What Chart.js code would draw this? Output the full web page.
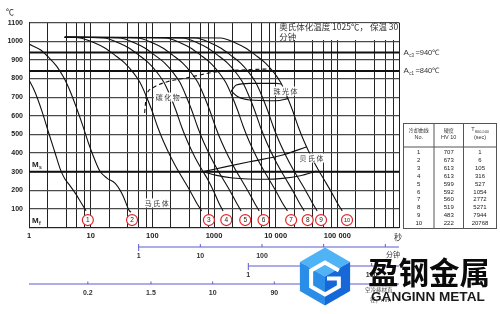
<!DOCTYPE html>
<html><head><meta charset="utf-8">
<script src="https://cdn.jsdelivr.net/npm/chart.js@4.4.1/dist/chart.umd.min.js"></script>
<style>html,body{margin:0;padding:0;background:#fff;}canvas{display:block;}</style>
</head><body>
<canvas id="c" width="500" height="314"></canvas>
<script>
// ---------- data ----------
const xGridValues = [1,2,4,6,8,10,20,40,60,80,100,200,400,600,800,1000,2000,4000,6000,8000,
  10000,20000,40000,60000,80000,100000,200000,400000,600000,800000,1000000];
const xLabelValues = [1,10,100,1000,10000,100000];
const xLabelTexts = ['1','10','100','1000','10 000','100 000'];
const yMax = 1100, yStep = 100;

const ac3Temp = 940, ac1Temp = 840, msTemp = 300;

// cooling curves [time s, temperature °C]
const curve1 = [[1,792],[1.25,728],[1.62,625],[2.1,505],[2.65,400],[3.2,315],[3.8,262],[4.5,230],[5.7,182],[7.2,126],[8.4,90]];
const curve2 = [[1,985],[1.55,953],[2.05,916],[2.8,867],[3.7,803],[4.7,728],[5.9,642],[7.4,550],[9.2,454],[11.3,375],[14,305],[18.5,264],[25,237],[33,175],[42,92],[45,82]];
const coolTemps = [1022,1018,991,964,926,883,835,781,712,631,540,459,379,309,255,191,132,89];
const curve3Times = [3.8,6.7,11.7,17,24.6,35.8,48.2,62.5,78.2,97.8,122,153,199,258,322,418,523,630];
const curve4Times = [3.8,16.4,28.7,41.7,60.3,87.7,118,153,192,240,299,375,488,640,800,1000,1200,1400];
const curve5Times = [3.8,29.7,52,75.5,109,159,214,278,347,434,542,679,884,1146,1430,1856,2322,2750];
const curve6Times = [3.8,58,102,148,214,311,418,543,679,849,1059,1328,1727,2239,2795,3628,4540,5400];
const curve7Times = [3.8,165,288,418,605,881,1186,1538,1924,2406,3001,3764,4895,6347,7921,10280,12870,15500];
const curve8Times = [3.8,311,543,789,1141,1661,2236,2900,3628,4538,5661,7099,9234,11970,14940,19400,24270,29000];
const curve9Times = [3.8,505,881,1280,1852,2696,3629,4706,5888,7364,9187,11520,14980,19430,24250,31480,39380,47000];
const curve10Times = [3.8,1280,2235,3247,4699,6838,9206,11940,14940,18680,23300,29220,38010,49280,61500,79840,99890,120000];

// transformation region boundaries
const carbideLine = [[75,615],[77,660],[80,705],[100,748],[175,783],[330,801],[1140,837],[3800,848],[8400,852]];
const pearliteStart = [[1905,733],[2300,765],[3770,774],[10190,774],[12400,771]];
const pearliteEnd = [[1905,733],[2436,702],[3768,685],[10190,681],[16000,692]];
const bainiteStart = [[665,300],[1580,327],[3770,353],[13000,389],[32000,434]];
const bainiteEnd = [[665,300],[1100,280],[2020,266],[7000,259],[13000,264],[25000,278],[46000,303]];

// curve number markers
const markerNumbers = ['1','2','3','4','5','6','7','8','9','10'];
const markerTimes = [9.0,46.9,827,1582,3209,6348,17820,33070,54460,143600];
const markerTemp = 40;

// phase labels [text, time, temp]
const phaseLabels = [['碳化物',177,701],['珠光体',14420,733],['贝氏体',37950,373],['马氏体',118,132]];

// table
const tableNo = ['1','2','3','4','5','6','7','8','9','10'];
const tableHV = ['707','673','613','613','599','592','560','519','483','222'];
const tableT85 = ['1','6','105','316','527','1054','2772','5271','7944','20768'];

// secondary axes
const minuteTicks = [1,10,100,1000,10000];
const minuteLabels = ['1','10','100','1000',''];
const hourTicks = [1,10,100];
const hourLabels = ['1','10','100'];
const diamSeconds = [9,95,950,9500];
const diamLabels = ['0.2','1.5','10','90'];

// ---------- chart ----------
function lineDs(points, extra){
  return Object.assign({
    data: points.map(p => ({x:p[0], y:p[1]})),
    showLine:true, borderColor:'#111', borderWidth:1.1, pointRadius:0,
    cubicInterpolationMode:'monotone', fill:false
  }, extra || {});
}
const zip = ts => ts.map((t,i) => [t, coolTemps[i]]);
const datasets = [
  lineDs(curve1), lineDs(curve2),
  lineDs(zip(curve3Times)), lineDs(zip(curve4Times)), lineDs(zip(curve5Times)), lineDs(zip(curve6Times)),
  lineDs(zip(curve7Times)), lineDs(zip(curve8Times)), lineDs(zip(curve9Times)), lineDs(zip(curve10Times)),
  lineDs(carbideLine, {borderDash:[4,3]}),
  lineDs(pearliteStart), lineDs(pearliteEnd),
  lineDs(bainiteStart), lineDs(bainiteEnd),
  {
    data: markerTimes.map(t => ({x:t, y:markerTemp})),
    showLine:false, pointRadius:5.5, pointBackgroundColor:'#fff',
    pointBorderColor:'#e0262a', pointBorderWidth:1.2, clip:false
  }
];

const NUMF = "'Liberation Sans', Arial, sans-serif";
const CJKF = "'Noto Sans CJK SC', sans-serif";

function txt(ctx, s, x, y, font, color, align){
  ctx.font = font; ctx.fillStyle = color || '#333';
  ctx.textAlign = align || 'center'; ctx.textBaseline = 'middle';
  ctx.fillText(s, x, y);
}
function subLabel(ctx, main, sub, x, y, mainFont, subFont, color){
  ctx.font = mainFont; ctx.fillStyle = color; ctx.textAlign='left'; ctx.textBaseline='middle';
  ctx.fillText(main, x, y);
  const w = ctx.measureText(main).width;
  ctx.font = subFont; ctx.fillText(sub, x + w + 0.3, y + 2.8);
  return x + w + 0.3 + ctx.measureText(sub).width;
}

const overlay = {
  id:'overlay',
  beforeDatasetsDraw(chart){
    const {ctx, chartArea:a, scales:{x, y}} = chart;
    ctx.save();
    const bx = x.getPixelForValue(11000);
    ctx.fillStyle = '#fff';
    ctx.fillRect(bx, a.top + 0.8, a.right - 0.8 - bx, y.getPixelForValue(1007) - a.top - 0.8);
    ctx.strokeStyle = '#111'; ctx.lineWidth = 2;
    [ac3Temp, ac1Temp, msTemp].forEach(t => {
      const py = y.getPixelForValue(t);
      ctx.beginPath(); ctx.moveTo(a.left, py); ctx.lineTo(a.right, py); ctx.stroke();
    });
    ctx.restore();
  },
  afterDatasetsDraw(chart){
    const {ctx, chartArea:a, scales:{x, y}} = chart;
    ctx.save();
    const bx = x.getPixelForValue(11000);
    txt(ctx, '奥氏体化温度 1025℃， 保温 30', bx + 1, y.getPixelForValue(1077), `8.5px ${CJKF}`, '#333', 'left');
    txt(ctx, '分钟', bx + 1, y.getPixelForValue(1026), `8.5px ${CJKF}`, '#333', 'left');
    phaseLabels.forEach(([s, t, T]) => {
      const px = x.getPixelForValue(t), py = y.getPixelForValue(T);
      ctx.font = `7px ${CJKF}`;
      ctx.letterSpacing = '1.5px';
      const w = ctx.measureText(s).width;
      ctx.fillStyle = '#fff'; ctx.fillRect(px - w/2 - 1, py - 4.5, w + 1, 9);
      ctx.fillStyle = '#333'; ctx.textAlign='center'; ctx.textBaseline='middle';
      ctx.fillText(s, px + 0.75, py);
      ctx.letterSpacing = '0px';
    });
    markerTimes.forEach((t, i) => {
      txt(ctx, markerNumbers[i], x.getPixelForValue(t), y.getPixelForValue(markerTemp) + 0.3,
          `${markerNumbers[i].length > 1 ? 5.5 : 6.5}px ${NUMF}`, '#222');
    });
    subLabel(ctx, 'M', 's', a.left + 3, y.getPixelForValue(336), `bold 8px ${NUMF}`, `bold 5px ${NUMF}`, '#222');
    subLabel(ctx, 'M', 'f', a.left + 3, y.getPixelForValue(38), `bold 8px ${NUMF}`, `bold 5px ${NUMF}`, '#222');
    ctx.restore();
  },
  afterDraw(chart){
    const {ctx, chartArea:a, scales:{x, y}} = chart;
    ctx.save();
    txt(ctx, '℃', 10, 12, `8px ${CJKF}`, '#222');
    txt(ctx, '秒', a.right - 1, a.bottom + 9.5, `8px ${CJKF}`, '#333');
    [[ac3Temp,'c3','=940℃'],[ac1Temp,'c1','=840℃']].forEach(([T, sub, rest]) => {
      const py = y.getPixelForValue(T);
      const ex = subLabel(ctx, 'A', sub, a.right + 4.5, py, `8px ${NUMF}`, `4.5px ${NUMF}`, '#333');
      txt(ctx, rest, ex + 1.5, py, `7.5px ${NUMF}`, '#333', 'left');
    });
    // table
    const tl = 403.5, tr = 496.5, tt = 123.5, tb = 228.5, th = 147, c1 = 434, c2 = 463.5;
    ctx.strokeStyle = '#555'; ctx.lineWidth = 1;
    ctx.strokeRect(tl, tt, tr - tl, tb - tt);
    ctx.beginPath();
    ctx.moveTo(tl, th); ctx.lineTo(tr, th);
    ctx.moveTo(c1, tt); ctx.lineTo(c1, tb);
    ctx.moveTo(c2, tt); ctx.lineTo(c2, tb);
    ctx.stroke();
    const m1 = (tl + c1)/2, m2 = (c1 + c2)/2, m3 = (c2 + tr)/2;
    txt(ctx, '冷却曲线', m1, 130.5, `5px ${CJKF}`, '#333');
    txt(ctx, 'No.', m1, 137.5, `5.5px ${NUMF}`, '#333');
    txt(ctx, '硬度', m2, 130.5, `5px ${CJKF}`, '#333');
    txt(ctx, 'HV 10', m2, 137.5, `5.5px ${NUMF}`, '#333');
    ctx.font = `5.5px ${NUMF}`; const tw = ctx.measureText('T').width;
    ctx.font = `3.8px ${NUMF}`; const sw = ctx.measureText('800-500').width;
    subLabel(ctx, 'T', '800-500', m3 - (tw + sw)/2, 129.5, `5.5px ${NUMF}`, `3.8px ${NUMF}`, '#333');
    txt(ctx, '(sec)', m3, 137.5, `5.5px ${NUMF}`, '#333');
    tableNo.forEach((n, i) => {
      const ry = 152.7 + i * 7.85;
      txt(ctx, n, m1, ry, `6px ${NUMF}`, '#222');
      txt(ctx, tableHV[i], m2, ry, `6px ${NUMF}`, '#222');
      txt(ctx, tableT85[i], m3, ry, `6px ${NUMF}`, '#222');
    });
    // secondary axes
    const axisCol = '#5b5bd8';
    ctx.strokeStyle = axisCol; ctx.lineWidth = 1;
    let ly = 247;
    ctx.beginPath();
    ctx.moveTo(x.getPixelForValue(60), ly + 4); ctx.lineTo(x.getPixelForValue(60), ly); ctx.lineTo(a.right, ly);
    minuteTicks.forEach(m => { const px = x.getPixelForValue(m * 60); ctx.moveTo(px, ly - 3); ctx.lineTo(px, ly); });
    ctx.stroke();
    minuteTicks.forEach((m, i) => txt(ctx, minuteLabels[i], x.getPixelForValue(m * 60), 256.5, `bold 7px ${NUMF}`, '#333'));
    txt(ctx, '分钟', 393, 254.5, `7px ${CJKF}`, '#333');
    ly = 266;
    ctx.beginPath();
    ctx.moveTo(x.getPixelForValue(3600), ly + 4); ctx.lineTo(x.getPixelForValue(3600), ly); ctx.lineTo(a.right, ly);
    hourTicks.forEach(h => { const px = x.getPixelForValue(h * 3600); ctx.moveTo(px, ly - 3); ctx.lineTo(px, ly); });
    ctx.stroke();
    hourTicks.forEach((h, i) => txt(ctx, hourLabels[i], x.getPixelForValue(h * 3600), 275, `bold 7px ${NUMF}`, '#333'));
    ly = 284;
    ctx.beginPath();
    ctx.moveTo(a.left, ly); ctx.lineTo(a.right, ly);
    diamSeconds.forEach(s => { const px = x.getPixelForValue(s); ctx.moveTo(px, ly - 2.5); ctx.lineTo(px, ly); });
    ctx.stroke();
    diamSeconds.forEach((s, i) => txt(ctx, diamLabels[i], x.getPixelForValue(s), 293.5, `bold 7px ${NUMF}`, '#333'));
    txt(ctx, '空冷棒材直', 365, 290, `5.5px ${CJKF}`, '#444', 'left');
    txt(ctx, '径，mm', 370, 300, `5.5px ${CJKF}`, '#444', 'left');
    // watermark logo
    const cx = 325, cy = 276.5, r = 29;
    const P = k => [cx + r * Math.cos((-90 + 60*k) * Math.PI/180), cy + r * Math.sin((-90 + 60*k) * Math.PI/180)];
    const poly = (pts, fill) => { ctx.beginPath(); ctx.moveTo(...pts[0]); pts.slice(1).forEach(p => ctx.lineTo(...p)); ctx.closePath(); ctx.fillStyle = fill; ctx.fill(); };
    const C = [cx, cy];
    poly([P(0), P(1), C, P(5)], '#4fb3f6');
    poly([P(5), C, P(3), P(4)], '#2a8de8');
    poly([C, P(1), P(2), P(3)], '#1668d8');
    const ri = 16;
    const Q = k => [cx + ri * Math.cos((-90 + 60*k) * Math.PI/180), cy + 2 + ri * Math.sin((-90 + 60*k) * Math.PI/180)];
    ctx.strokeStyle = '#ffffff'; ctx.lineWidth = 4; ctx.lineJoin = 'miter';
    ctx.beginPath();
    ctx.moveTo(...Q(1)); ctx.lineTo(...Q(0)); ctx.lineTo(...Q(5)); ctx.lineTo(...Q(4)); ctx.lineTo(...Q(3));
    ctx.lineTo(...Q(2)); ctx.lineTo(Q(2)[0], cy + 2); ctx.lineTo(cx + 2, cy + 2);
    ctx.stroke();
    txt(ctx, '盈钢金属', 368, 272, `bold 30.5px ${CJKF}`, '#0a0a0a', 'left');
    txt(ctx, 'GANGINN METAL', 371, 297.5, `bold 13.6px ${NUMF}`, '#1a1a1a', 'left');
    ctx.restore();
  }
};

new Chart(document.getElementById('c'), {
  type:'scatter',
  data:{ datasets },
  options:{
    responsive:false, animation:false, events:[],
    layout:{ padding:{ left:0, top:22.7, right:101, bottom:0 } },
    plugins:{ legend:{display:false}, tooltip:{enabled:false} },
    scales:{
      x:{
        type:'logarithmic', min:1, max:1000000,
        afterBuildTicks: s => { s.ticks = xGridValues.map(v => ({value:v})); },
        afterFit: s => { s.height = 314 - 227.5; },
        grid:{ color:'#222', lineWidth:1, drawTicks:false },
        border:{ color:'#222', width:1 },
        ticks:{
          autoSkip:false, maxRotation:0, minRotation:0, padding:3.5, color:'#222',
          font:{ family:"'Liberation Sans', Arial, sans-serif", size:7.5, weight:'bold' },
          callback: v => { const i = xLabelValues.findIndex(d => Math.abs(d - v) / d < 1e-6); return i >= 0 ? xLabelTexts[i] : ''; }
        }
      },
      y:{
        min:0, max:yMax,
        afterFit: s => { s.width = 29; },
        grid:{ color:'#4a4a4a', lineWidth:1.3, drawTicks:false },
        border:{ color:'#222', width:1 },
        ticks:{
          stepSize:yStep, padding:6, color:'#222',
          font:{ family:"'Liberation Sans', Arial, sans-serif", size:7, weight:'bold' },
          callback: v => v === 0 ? '' : String(v)
        }
      }
    }
  },
  plugins:[overlay]
});
</script>
</body></html>
